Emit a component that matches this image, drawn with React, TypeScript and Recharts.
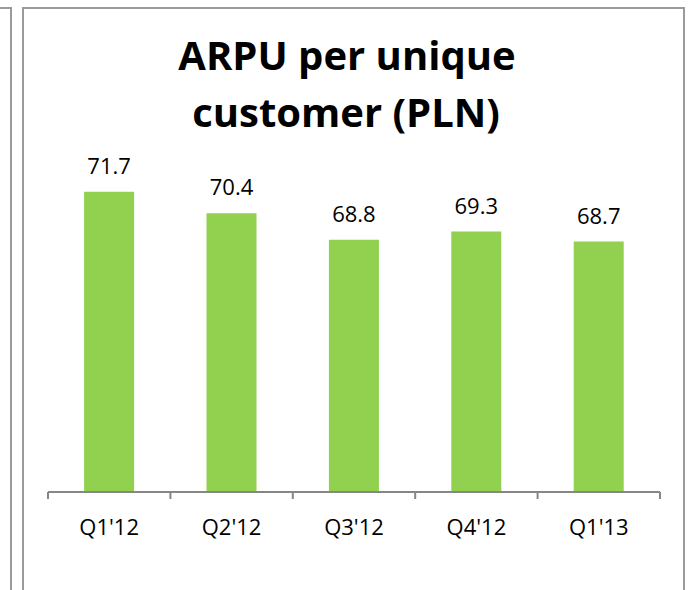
import React from 'react';
import { BarChart, Bar, XAxis, YAxis, LabelList } from 'recharts';

const quarters = ["Q1'12", "Q2'12", "Q3'12", "Q4'12", "Q1'13"];
const arpu = [71.7, 70.4, 68.8, 69.3, 68.7];

const data = quarters.map((q, i) => ({ quarter: q, value: arpu[i] }));

const FONT = '"Open Sans", "Noto Sans", sans-serif';
const FRAME = '#9a9a9a';
const AXIS = '#868686';

// label plus tick marks on the category boundaries (Excel style)
function QuarterTick(props: any) {
  const { x, y, payload, index, visibleTicksCount } = props;
  const half = payload && payload.offset ? payload.offset : 61.2;
  const axisY = y - 27;
  const last = index === visibleTicksCount - 1;
  return (
    <g>
      <line x1={x - half} x2={x - half} y1={axisY} y2={axisY + 7} stroke={AXIS} strokeWidth={2} />
      {last && <line x1={x + half} x2={x + half} y1={axisY} y2={axisY + 7} stroke={AXIS} strokeWidth={2} />}
      <text x={x} y={y} dy="0.71em" textAnchor="middle" fontFamily={FONT} fontSize={22} fill="#000">
        {payload.value}
      </text>
    </g>
  );
}

export default function App() {
  return (
    <div style={{ position: 'absolute', left: 0, top: 0, width: 688, height: 590, overflow: 'hidden', background: '#fff' }}>
      {/* edge of the neighbouring panel */}
      <div style={{ position: 'absolute', left: 10, top: 7, width: 2, height: 600, background: FRAME }} />
      <div style={{ position: 'absolute', left: 0, top: 7, width: 12, height: 2, background: FRAME }} />
      {/* main panel frame */}
      <div style={{ position: 'absolute', left: 22, top: 7, width: 659, height: 620, border: `2px solid ${FRAME}` }} />

      <svg width={688} height={150} style={{ position: 'absolute', left: 0, top: 0 }}>
        <text x={347} y={70} textAnchor="middle" fontFamily={FONT} fontWeight={700} fontSize={40} fill="#000">
          ARPU per unique
        </text>
        <text x={346} y={127} textAnchor="middle" fontFamily={FONT} fontWeight={700} fontSize={40} fill="#000">
          customer (PLN)
        </text>
      </svg>

      <div style={{ position: 'absolute', left: 0, top: 0 }}>
        <BarChart
          width={688}
          height={590}
          data={data}
          margin={{ top: 137, right: 28, bottom: 58, left: 48 }}
          barCategoryGap="29.5%"
        >
          <YAxis hide domain={[53.6, 75]} type="number" allowDataOverflow />
          <XAxis
            dataKey="quarter"
            height={40}
            axisLine={{ stroke: AXIS, strokeWidth: 2 }}
            tickLine={false}
            tickSize={7}
            tickMargin={20}
            interval={0}
            tick={<QuarterTick />}
            ticks={quarters}
          />
          <Bar dataKey="value" fill="#92d050" isAnimationActive={false}>
            <LabelList
              dataKey="value"
              position="top"
              offset={18}
              style={{ fontFamily: FONT, fontSize: 22, fill: '#000' }}
              formatter={(v: number) => v.toFixed(1)}
            />
          </Bar>
        </BarChart>
      </div>
    </div>
  );
}
